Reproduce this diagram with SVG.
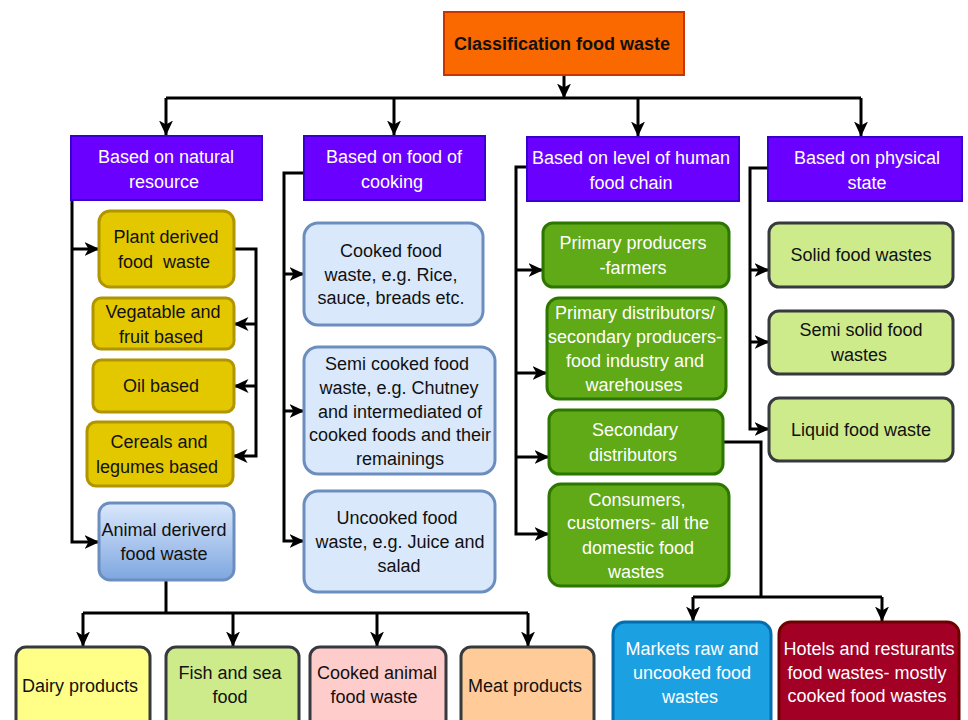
<svg xmlns="http://www.w3.org/2000/svg" width="968" height="720" viewBox="0 0 968 720">
<defs>
<marker id="arr" viewBox="0 0 15 14" refX="14.5" refY="7" markerWidth="15" markerHeight="14" markerUnits="userSpaceOnUse" orient="auto">
<path d="M0,0 L15,7 L0,14 L4,7 z" fill="#000"/>
</marker>
<linearGradient id="animGrad" x1="0" y1="0" x2="0" y2="1">
<stop offset="0" stop-color="#DAE8FC"/>
<stop offset="1" stop-color="#7EA6E0"/>
</linearGradient>
<style>
text{font-family:"Liberation Sans",Arial,sans-serif;font-size:18px;text-anchor:middle;fill:#111;}
.w{fill:#fff;}
.b{font-weight:bold;}
.con path{fill:none;stroke:#000;stroke-width:3;}
.a{marker-end:url(#arr);}
.purple{fill:#6A00FF;stroke:#3700CC;stroke-width:2;}
.yellow{fill:#E3C800;stroke:#B09500;stroke-width:3;}
.lblue{fill:#DAE8FC;stroke:#6C8EBF;stroke-width:3;}
.green{fill:#60A917;stroke:#2D7600;stroke-width:3;}
.lgreen{fill:#CDEB8B;stroke:#36393D;stroke-width:3;}
</style>
</defs>
<rect width="968" height="720" fill="#fff"/>

<g class="con">
<path class="a" d="M564,75 V98"/>
<path d="M166,98 H861"/>
<path class="a" d="M166,98 V135"/>
<path class="a" d="M394,98 V135"/>
<path class="a" d="M638,98 V136"/>
<path class="a" d="M861,98 V136"/>
<!-- col1 -->
<path class="a" d="M72,200 V542 H99"/>
<path class="a" d="M72,249 H99"/>
<path class="a" d="M234,249 H256 V456 H233"/>
<path class="a" d="M256,324 H234"/>
<path class="a" d="M256,386 H234"/>
<path d="M166,580 V613"/>
<path d="M83,613 H528"/>
<path class="a" d="M83,613 V646"/>
<path class="a" d="M233,613 V646"/>
<path class="a" d="M377,613 V646"/>
<path class="a" d="M528,613 V646"/>
<!-- col2 -->
<path class="a" d="M304,173 H284 V541 H304"/>
<path class="a" d="M284,274 H304"/>
<path class="a" d="M284,411 H304"/>
<!-- col3 -->
<path class="a" d="M527,167 H516 V534 H549"/>
<path class="a" d="M516,270 H543"/>
<path class="a" d="M516,373 H547"/>
<path class="a" d="M516,457 H549"/>
<path d="M723,442 H761 V597"/>
<path d="M693,597 H882"/>
<path class="a" d="M693,597 V621"/>
<path class="a" d="M882,597 V621"/>
<!-- col4 -->
<path class="a" d="M768,168 H750 V429 H769"/>
<path class="a" d="M750,270 H769"/>
<path class="a" d="M750,342 H769"/>
</g>

<g id="root">
<rect x="444" y="12" width="240" height="63" fill="#FA6800" stroke="#C73500" stroke-width="2"/>
<text class="b" x="562" y="50">Classification food waste</text>
</g>

<g id="cat-natural">
<rect class="purple" x="71" y="136" width="191" height="64"/>
<text class="w" x="166" y="163">Based on natural</text>
<text class="w" x="164" y="188">resource</text>
</g>
<g id="cat-cooking">
<rect class="purple" x="304" y="136" width="181" height="64"/>
<text class="w" x="394" y="163">Based on food of</text>
<text class="w" x="392" y="188">cooking</text>
</g>
<g id="cat-chain">
<rect class="purple" x="527" y="137" width="212" height="64"/>
<text class="w" x="631" y="164">Based on level of human</text>
<text class="w" x="631" y="189">food chain</text>
</g>
<g id="cat-state">
<rect class="purple" x="768" y="137" width="194" height="64"/>
<text class="w" x="867" y="164">Based on physical</text>
<text class="w" x="867" y="189">state</text>
</g>

<g id="plant">
<rect class="yellow" x="99" y="211" width="135" height="76" rx="11"/>
<text x="166" y="243">Plant derived</text>
<text x="164" y="268" xml:space="preserve">food  waste</text>
</g>
<g id="veg">
<rect class="yellow" x="93" y="298" width="141" height="51" rx="8"/>
<text x="163" y="318">Vegatable and</text>
<text x="161" y="343">fruit based</text>
</g>
<g id="oil">
<rect class="yellow" x="93" y="360" width="141" height="52" rx="8"/>
<text x="161" y="392">Oil based</text>
</g>
<g id="cereals">
<rect class="yellow" x="87" y="422" width="146" height="64" rx="9"/>
<text x="159" y="448">Cereals and</text>
<text x="157" y="473">legumes based</text>
</g>
<g id="animal">
<rect x="99" y="503" width="135" height="77" rx="11" fill="url(#animGrad)" stroke="#6C8EBF" stroke-width="3"/>
<text x="164" y="536">Animal deriverd</text>
<text x="164" y="560">food waste</text>
</g>

<g id="dairy">
<rect x="16" y="647" width="134" height="100" rx="10" fill="#FFFF88" stroke="#36393D" stroke-width="3"/>
<text x="80" y="692">Dairy products</text>
</g>
<g id="fish">
<rect x="166" y="647" width="133" height="100" rx="10" fill="#CDEB8B" stroke="#36393D" stroke-width="3"/>
<text x="230" y="679">Fish and sea</text>
<text x="230" y="703">food</text>
</g>
<g id="cookedanimal">
<rect x="310" y="647" width="136" height="100" rx="10" fill="#FFCCCC" stroke="#36393D" stroke-width="3"/>
<text x="377" y="679">Cooked animal</text>
<text x="374" y="703">food waste</text>
</g>
<g id="meat">
<rect x="461" y="647" width="133" height="100" rx="10" fill="#FFCC99" stroke="#36393D" stroke-width="3"/>
<text x="525" y="692">Meat products</text>
</g>

<g id="cooked">
<rect class="lblue" x="304" y="223" width="179" height="102" rx="14"/>
<text x="391" y="257">Cooked food</text>
<text x="391" y="281">waste, e.g. Rice,</text>
<text x="391" y="304">sauce, breads etc.</text>
</g>
<g id="semicooked">
<rect class="lblue" x="304" y="347" width="191" height="127" rx="14"/>
<text x="397" y="370">Semi cooked food</text>
<text x="399" y="394">waste, e.g. Chutney</text>
<text x="400" y="418">and intermediated of</text>
<text x="400" y="441">cooked foods and their</text>
<text x="400" y="465">remainings</text>
</g>
<g id="uncooked">
<rect class="lblue" x="304" y="491" width="191" height="101" rx="14"/>
<text x="397" y="524">Uncooked food</text>
<text x="400" y="548">waste, e.g. Juice and</text>
<text x="399" y="572">salad</text>
</g>

<g id="primaryprod">
<rect class="green" x="543" y="223" width="186" height="64" rx="10"/>
<text class="w" x="633" y="249">Primary producers</text>
<text class="w" x="633" y="274">-farmers</text>
</g>
<g id="primarydist">
<rect class="green" x="547" y="298" width="179" height="101" rx="12"/>
<text class="w" x="635" y="319">Primary distributors/</text>
<text class="w" x="635" y="343">secondary producers-</text>
<text class="w" x="635" y="367">food industry and</text>
<text class="w" x="634" y="391">warehouses</text>
</g>
<g id="secondarydist">
<rect class="green" x="549" y="410" width="174" height="64" rx="10"/>
<text class="w" x="635" y="436">Secondary</text>
<text class="w" x="633" y="461">distributors</text>
</g>
<g id="consumers">
<rect class="green" x="549" y="484" width="180" height="102" rx="12"/>
<text class="w" x="637" y="506">Consumers,</text>
<text class="w" x="638" y="529">customers- all the</text>
<text class="w" x="638" y="554">domestic food</text>
<text class="w" x="636" y="578">wastes</text>
</g>

<g id="markets">
<rect x="613" y="622" width="158" height="110" rx="12" fill="#1BA1E2" stroke="#006EAF" stroke-width="3"/>
<text class="w" x="692" y="655">Markets raw and</text>
<text class="w" x="692" y="679">uncooked food</text>
<text class="w" x="690" y="703">wastes</text>
</g>
<g id="hotels">
<rect x="779" y="622" width="180" height="110" rx="12" fill="#A20025" stroke="#6F0000" stroke-width="3"/>
<text class="w" x="869" y="655">Hotels and resturants</text>
<text class="w" x="867" y="679">food wastes- mostly</text>
<text class="w" x="867" y="702">cooked food wastes</text>
</g>

<g id="solid">
<rect class="lgreen" x="769" y="223" width="184" height="64" rx="10"/>
<text x="861" y="261">Solid food wastes</text>
</g>
<g id="semisolid">
<rect class="lgreen" x="769" y="311" width="184" height="63" rx="10"/>
<text x="861" y="336">Semi solid food</text>
<text x="859" y="361">wastes</text>
</g>
<g id="liquid">
<rect class="lgreen" x="769" y="398" width="184" height="63" rx="10"/>
<text x="861" y="436">Liquid food waste</text>
</g>
</svg>
